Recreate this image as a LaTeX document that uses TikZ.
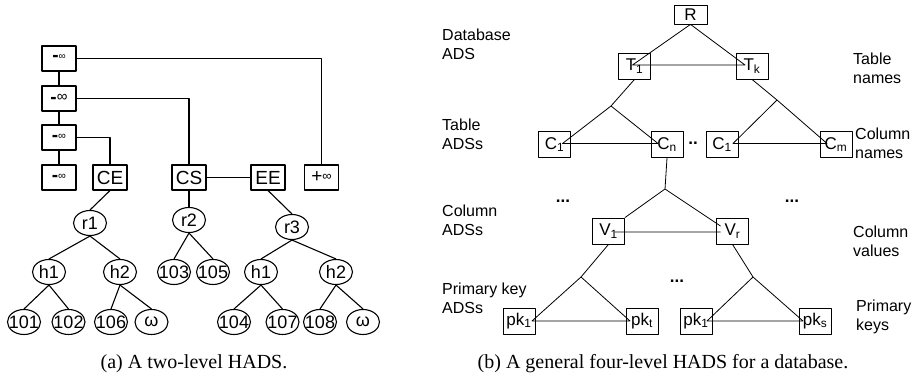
\documentclass[tikz,border=0pt]{standalone}
\usepackage{fontspec}
\setmainfont{Liberation Sans}
\newfontfamily\capfont{Liberation Serif}
\usetikzlibrary{shapes.geometric}
\tikzset{
	sq/.style={draw,line width=1.1pt,minimum width=34pt,minimum height=25pt,inner sep=0pt,font=\fontsize{19}{20}\selectfont},
	ov/.style={ellipse,draw,line width=1.1pt,minimum width=33pt,minimum height=25pt,inner sep=0pt,label={[font=\fontsize{18}{20}\selectfont]center:#1}},
	db/.style={draw,line width=.8pt,minimum width=32pt,minimum height=26pt,inner sep=0pt,font=\fontsize{17}{18}\selectfont},
	txt/.style={align=left,anchor=west,inner sep=0pt,font=\fontsize{16}{19}\selectfont},
	captxt/.style={font=\capfont\fontsize{20}{22}\selectfont},
	dots/.style={font=\bfseries\fontsize{17}{18}\selectfont}
}
\newcommand{\ninf}[1]{{\bfseries -}\raisebox{2pt}{\fontsize{#1}{#1}\selectfont ∞}}
\begin{document}
\begin{tikzpicture}[x=1pt,y=-1pt,line join=round]
	\useasboundingbox (0,0) rectangle (917,382);
	% (a) skip list of the two levels
	\node[sq] (m1) at (59,58.5) {\ninf{10}};
	\node[sq] (m2) at (59,98.5) {\ninf{15}};
	\node[sq] (m3) at (59,137.5) {\ninf{11}};
	\node[sq] (m4) at (59,177.5) {\ninf{11}};
	\node[sq] (ce) at (110,177.5) {CE};
	\node[sq] (cs) at (189,177.5) {CS};
	\node[sq] (ee) at (268,177.5) {EE};
	\node[sq] (pinf) at (321.5,177.5) {+\raisebox{2pt}{\fontsize{13}{13}\selectfont ∞}};
	\draw[line width=1.1pt] (m1)--(m2)--(m3)--(m4) (m1)-|(pinf) (m2)-|(cs) (m3)-|(ce) (cs)--(ee);
	% lower level trees
	\node[ov=r1] (r1) at (90,223) {};
	\node[ov=r2] (r2) at (189,220) {};
	\node[ov=r3] (r3) at (292,227) {};
	\node[ov=h1] (ha) at (49,272) {};
	\node[ov=h2] (hb) at (120,272) {};
	\node[ov=103] (l103) at (174,272) {};
	\node[ov=105] (l105) at (213,272) {};
	\node[ov=h1] (hc) at (261,272) {};
	\node[ov=h2] (hd) at (336,272) {};
	\node[ov=101] (l101) at (24,322) {};
	\node[ov=102] (l102) at (68.5,322) {};
	\node[ov=106] (l106) at (111,322) {};
	\node[ov=ω] (wa) at (151.5,322) {};
	\node[ov=104] (l104) at (234,322) {};
	\node[ov=107] (l107) at (282.5,322) {};
	\node[ov=108] (l108) at (320,322) {};
	\node[ov=ω] (wb) at (363,322) {};
	\foreach \a/\b in {ce/r1,cs/r2,ee/r3,r1/ha,r1/hb,r2/l103,r2/l105,r3/hc,r3/hd,ha/l101,ha/l102,hb/l106,hb/wa,hc/l104,hc/l107,hd/l108,hd/wb}
		\draw[line width=1.1pt] (\a.south)--(\b.north);
	\node[captxt] (capa) at (194,364) {(a) A two-level HADS.};

	% (b) four levels of a database
	\node[db,minimum width=33pt,minimum height=19pt] (R) at (690.5,14.5) {R};
	\node[db] (T1) at (634.5,66) {T\textsubscript{1}};
	\node[db] (Tk) at (752,66) {T\textsubscript{k}};
	\node[db] (C1) at (554.5,144.5) {C\textsubscript{1}};
	\node[db] (Cn) at (667,144.5) {C\textsubscript{n}};
	\node[db] (Cc) at (722,144.5) {C\textsubscript{1}};
	\node[db] (Cm) at (836,144.5) {C\textsubscript{m}};
	\node[db] (V1) at (608.5,231) {V\textsubscript{1}};
	\node[db] (Vr) at (732.5,231) {V\textsubscript{r}};
	\node[db] (pa) at (519,321) {pk\textsubscript{1}};
	\node[db] (pt) at (642,321) {pk\textsubscript{t}};
	\node[db] (pb) at (696,321) {pk\textsubscript{1}};
	\node[db] (ps) at (815,321) {pk\textsubscript{s}};
	\coordinate (a1) at (611,106);
	\coordinate (a2) at (777,100);
	\coordinate (a3) at (665,189);
	\coordinate (a4) at (581,277);
	\coordinate (a5) at (753,277);
	\begin{scope}[line width=.8pt]
	\draw (R.south)--([xshift=-2pt,yshift=1pt]T1.center)--([xshift=-7pt,yshift=1pt]Tk.center)--(R.south);
	\draw (T1.south)--(a1)--([xshift=8pt,yshift=1pt]C1.center)--([xshift=-9pt,yshift=1pt]Cn.center)--(a1);
	\draw (Tk.south)--(a2)--([xshift=11pt,yshift=1pt]Cc.center)--([xshift=-9pt,yshift=1pt]Cm.center)--(a2);
	\draw (Cn.south)--(a3)--(V1.north east) ([xshift=6pt,yshift=-1pt]V1.center)--([xshift=-12pt,yshift=-1pt]Vr.center)
		(a3)--([xshift=-12pt,yshift=5pt]Vr.center);
	\draw (V1.south)--(a4)--([xshift=13pt]pa.center)--([xshift=-12pt]pt.center)--(a4);
	\draw (Vr.south)--(a5)--([xshift=11pt]pb.center)--([xshift=-12pt]ps.center)--(a5);
	\end{scope}
	\node[dots] (d1) at (693,143) {..};
	\node[dots] (d2) at (563,201) {...};
	\node[dots] (d3) at (792,201) {...};
	\node[dots] (d4) at (677,281) {...};
	\node[txt] (n1) at (442,44) {Database\\ADS};
	\node[txt] (n2) at (442,134) {Table\\ADSs};
	\node[txt] (n3) at (442,220) {Column\\ADSs};
	\node[txt] (n4) at (442,298) {Primary key\\ADSs};
	\node[txt] (n5) at (853,68) {Table\\names};
	\node[txt] (n6) at (855,143) {Column\\names};
	\node[txt] (n7) at (853,241) {Column\\values};
	\node[txt] (n8) at (856,317) {Primary\\keys};
	\node[captxt] (capb) at (663,364) {(b) A general four-level HADS for a database.};
\end{tikzpicture}
\end{document}
